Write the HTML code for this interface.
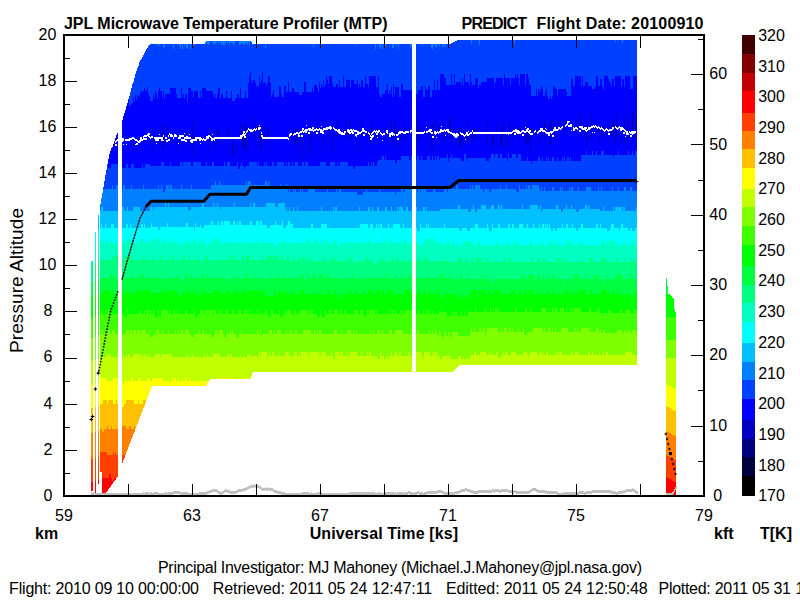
<!DOCTYPE html>
<html><head><meta charset="utf-8"><title>MTP</title>
<style>html,body{margin:0;padding:0;background:#fff;overflow:hidden}svg{display:block}</style></head>
<body><svg width="800" height="600" viewBox="0 0 800 600">
<rect width="800" height="600" fill="#fff"/>
<g shape-rendering="crispEdges"><path fill="#0040ff" d="M100,496V204H101V198H102V193H103V187H104V181H105V175H106V170H107V164H108V159H109V154H110V151H111V148H112V147H113V144H114V141H115V138H116V135H117V133H118V131H119V128H120V125H121V122H122V120H123V116H124V113H125V110H126V106H127V103H128V99H129V96H130V92H131V88H132V84H133V82H134V78H135V74H136V71H137V68H138V66H139V62H140V60H141V59H142V57H143V55H144V53H145V51H146V49H147V48H148V46H149V45H150V44H205V42H206V41H251V42H252V44H451V43H453V42H455V41H457V40H637V496Z"/><path fill="#0000ff" d="M100,496V204H101V198H102V193H103V187H104V181H105V175H106V170H107V164H108V159H109V154H110V151H111V148H112V147H113V144H114V141H115V138H116V135H117V133H118V131H119V128H120V125H121V122H122V120H123V116H124V113H125V110H126V106H127V103H128V99H129V106H130V105H131V104H132V103H133V97H134V102H135V95H136V100H137V95H138V96H139V97H140V93H141V91H142V92H143V91H144V88H145V90H146V91H147V87H148V94H149V96H150V101H153V94H154V98H155V91H156V94H157V98H158V91H159V88H160V91H162V98H163V91H164V98H165V94H170V88H176V94H177V98H181V88H182V98H183V94H184V98H185V94H187V101H188V88H191V91H193V98H194V91H198V98H200V91H201V98H202V88H206V91H213V94H214V98H215V94H216V98H217V94H218V88H220V98H221V94H223V98H226V91H227V98H231V91H232V101H235V98H237V94H239V98H240V88H241V98H245V91H246V98H248V83H249V76H250V72H251V80H252V83H253V80H255V83H256V86H259V76H260V83H261V80H262V72H263V83H266V86H267V83H268V76H270V83H271V97H272V94H273V90H274V97H279V86H281V94H282V97H284V86H286V92H288V82H289V92H292V88H294V92H299V95H302V92H304V82H306V92H312V88H313V92H314V85H317V88H318V92H319V82H320V88H321V84H322V87H323V80H324V87H325V84H326V76H327V80H328V84H329V76H332V84H333V87H336V84H338V87H339V80H340V87H343V76H344V87H346V80H350V87H351V80H354V84H357V80H358V87H359V84H360V87H361V80H363V87H365V76H366V84H368V87H369V76H376V87H378V76H379V94H380V97H382V94H385V90H387V84H388V94H389V90H390V94H391V87H392V97H393V84H394V94H395V87H399V97H401V84H403V90H414V94H418V90H421V86H423V97H425V86H426V90H428V86H430V97H432V90H434V80H435V90H437V80H438V90H440V74H444V78H446V85H451V74H452V85H454V74H455V85H456V82H461V85H462V78H463V85H464V74H465V82H469V85H470V74H471V82H472V85H475V78H478V88H479V85H481V82H487V78H494V85H495V82H496V78H503V85H504V74H505V78H510V85H511V78H515V74H516V78H517V74H518V78H519V85H520V74H525V85H526V74H528V78H529V85H531V96H536V89H537V96H538V89H539V92H540V89H541V86H542V89H543V96H545V92H546V89H547V96H548V99H550V96H551V99H552V96H553V86H555V89H557V96H558V89H566V92H567V96H571V79H573V86H575V76H581V86H582V76H583V86H585V82H588V86H592V89H595V86H596V76H598V86H600V79H602V86H603V89H604V76H608V79H609V82H611V86H612V79H614V86H615V76H621V86H622V79H624V86H625V76H630V89H633V76H637V496Z"/><path fill="#0040ff" d="M100,496V204H101V198H102V193H103V187H104V181H105V175H106V171H107V164H108V168H111V164H119V168H121V164H122V168H126V164H128V168H131V164H134V168H142V164H143V168H145V164H150V166H161V162H164V166H170V162H171V166H180V162H182V166H183V162H191V166H193V162H201V166H206V162H207V166H212V162H214V166H224V162H225V166H227V162H230V166H237V162H238V169H240V166H241V162H242V166H244V169H245V166H249V162H257V166H258V162H259V166H264V162H265V166H266V162H267V166H272V162H274V166H277V162H284V166H286V162H287V166H288V162H290V166H292V162H293V166H295V162H298V166H302V162H304V166H305V162H308V166H320V162H326V166H330V162H335V166H337V162H338V166H340V162H348V166H353V169H355V166H368V162H369V166H371V162H372V166H373V162H374V166H377V162H378V160H382V156H384V160H385V156H386V160H395V163H397V160H401V156H409V160H411V156H416V160H417V156H419V160H421V156H422V160H427V156H430V160H432V156H433V160H435V156H436V160H437V156H439V160H440V158H447V154H448V161H449V158H451V154H452V158H461V161H464V154H466V158H467V161H468V158H486V161H489V158H491V154H494V158H495V154H498V158H500V154H502V158H507V161H508V154H509V158H512V154H516V158H518V154H521V161H527V157H528V161H531V164H532V161H538V157H540V161H542V157H543V161H546V157H547V161H548V157H549V161H552V157H554V161H557V157H558V161H562V157H563V161H564V157H565V161H567V157H569V161H570V157H571V161H581V155H586V151H587V155H592V151H593V155H596V151H597V155H601V151H604V155H613V158H614V155H618V151H619V155H628V151H629V155H632V151H633V155H635V151H637V496Z"/><path fill="#0080ff" d="M100,496V204H101V198H102V193H103V189H112V185H113V189H116V185H122V189H123V185H125V189H131V185H132V189H143V185H144V189H158V185H159V189H161V185H162V189H163V192H165V189H166V185H169V189H170V185H172V189H181V185H182V189H191V185H192V189H211V185H215V181H216V185H219V181H220V185H246V181H247V185H248V181H251V185H265V181H267V185H268V181H269V185H270V188H280V184H281V188H286V184H287V188H288V192H289V188H290V192H293V188H294V192H295V188H296V192H300V188H301V192H302V188H303V192H308V188H315V192H327V188H328V192H336V188H337V192H339V188H341V192H357V195H363V192H366V188H367V192H379V188H380V192H395V195H396V192H401V188H403V192H405V188H412V192H416V188H417V192H418V188H420V192H421V188H426V192H433V188H435V192H444V188H447V192H448V188H450V185H451V189H456V185H458V189H470V185H471V189H472V185H473V189H475V185H480V189H483V192H484V189H489V192H491V189H500V185H501V189H506V185H507V189H516V192H519V185H520V189H526V185H527V189H528V185H530V189H532V185H539V189H540V191H541V187H542V191H544V187H545V191H552V187H554V191H560V187H561V191H562V187H563V191H569V187H570V191H571V187H573V191H578V187H579V191H586V187H591V191H598V187H599V191H601V187H602V191H612V187H613V191H618V187H619V191H624V187H626V191H630V187H632V191H637V496Z"/><path fill="#00c0ff" d="M100,496V211H101V207H103V211H122V207H124V211H127V207H128V211H133V207H140V211H150V207H153V210H154V207H165V203H166V207H168V203H169V207H188V210H191V207H202V203H204V207H213V203H214V207H217V203H218V207H220V210H221V207H234V203H235V207H250V203H251V207H253V203H255V207H266V203H275V207H278V203H285V210H286V207H287V211H289V207H290V211H293V207H294V211H297V207H298V211H321V207H322V211H333V207H334V211H335V207H337V211H359V207H360V211H368V207H370V211H372V207H373V211H377V207H379V211H385V207H387V211H391V207H392V211H397V207H398V211H399V207H403V211H406V207H408V211H416V207H417V211H423V207H425V211H426V207H427V211H440V209H458V205H460V209H468V212H471V209H473V205H474V209H475V212H477V209H481V205H486V209H491V205H494V209H498V205H500V209H501V205H502V209H522V205H523V209H530V205H538V209H540V205H541V212H542V209H556V205H558V209H561V212H563V209H566V205H567V209H571V205H572V209H576V212H579V209H585V205H587V209H588V205H589V209H600V211H603V207H604V211H613V207H614V211H615V207H622V211H623V207H625V211H636V207H637V496Z"/><path fill="#00ffff" d="M100,496V228H101V224H102V228H105V224H106V228H111V224H114V228H120V231H122V228H126V224H128V228H130V224H131V228H141V224H143V228H144V224H145V228H150V227H151V223H152V227H158V230H160V227H167V223H168V227H186V223H188V227H194V230H195V223H196V227H200V225H201V228H204V225H211V221H213V225H218V221H219V225H221V221H223V225H224V221H230V225H233V221H235V225H237V221H238V225H239V221H241V225H250V221H252V225H256V221H259V225H260V221H262V225H267V228H270V225H275V221H276V225H282V221H283V228H286V225H288V221H290V224H293V228H311V224H313V228H321V224H327V228H360V224H368V228H370V224H373V228H376V224H377V228H378V224H379V228H380V224H382V228H388V224H389V228H393V224H400V228H403V224H404V228H417V231H420V224H421V228H426V224H427V228H428V224H429V228H444V224H445V228H459V231H462V228H467V231H470V228H475V224H478V228H487V224H488V228H489V231H492V224H493V228H498V224H500V228H508V224H510V228H512V224H514V228H519V224H523V228H527V224H528V228H533V224H534V228H539V224H540V228H542V224H544V228H545V224H546V228H547V224H548V228H549V224H550V228H551V231H553V228H555V231H557V228H562V224H563V228H566V224H568V228H572V224H573V228H576V231H578V228H581V224H583V228H596V224H598V228H600V224H601V228H607V231H610V228H611V224H614V228H619V231H620V228H621V224H623V228H628V231H630V228H632V231H635V228H637V496Z"/><path fill="#00ffc0" d="M100,496V239H101V243H103V239H104V243H106V239H107V243H111V239H112V243H115V239H116V243H118V239H120V243H126V239H130V243H131V239H133V243H136V239H137V243H140V239H142V243H143V239H144V243H148V239H149V243H151V239H157V246H158V239H160V243H162V239H163V243H164V239H166V243H173V239H175V243H181V246H183V243H186V239H188V243H193V239H196V243H201V239H202V243H203V239H204V243H206V246H208V243H213V239H219V243H228V239H229V243H237V239H238V243H246V239H247V243H256V239H257V243H262V239H263V243H274V246H277V243H282V239H284V243H293V246H294V243H307V239H309V243H313V239H315V243H316V239H317V243H324V239H325V243H327V239H328V243H334V239H337V246H340V243H349V239H350V243H363V239H364V243H368V239H370V243H384V239H385V243H389V239H391V243H394V239H395V243H400V239H401V243H405V239H406V243H413V239H414V243H419V246H422V243H425V239H427V243H428V239H435V243H442V246H445V243H447V239H449V243H450V245H453V241H454V245H456V241H457V245H463V241H472V245H477V241H480V245H496V241H498V245H507V241H508V245H514V241H517V245H530V241H532V245H541V241H542V245H543V241H544V245H549V241H551V245H553V241H555V245H558V241H559V245H566V241H571V245H572V241H573V245H579V241H581V245H582V241H583V245H601V241H605V245H607V241H615V245H616V241H617V245H618V248H619V245H623V241H625V245H631V241H634V245H637V496Z"/><path fill="#00ff80" d="M100,496V260H113V256H118V260H119V263H122V260H125V256H132V260H143V256H144V260H145V256H146V260H152V256H153V260H160V256H162V260H169V256H170V260H172V256H174V260H183V256H185V260H189V256H190V260H197V256H198V260H201V263H202V260H205V256H208V260H209V263H210V260H229V256H231V260H233V256H235V260H240V263H241V260H242V256H244V260H246V256H250V260H252V256H253V260H261V256H262V260H267V256H273V260H274V256H278V260H281V256H283V260H287V256H289V260H290V261H293V257H294V261H298V257H300V261H301V257H305V261H307V257H308V261H310V257H311V261H312V257H313V261H323V257H325V261H331V257H335V261H337V257H338V261H348V257H350V261H351V257H352V261H354V264H356V261H366V257H368V261H370V257H371V261H374V264H377V261H380V257H381V261H383V257H384V261H391V257H393V261H396V257H397V261H404V257H405V261H417V257H418V261H419V257H420V261H424V257H426V261H427V257H428V261H442V257H443V261H450V262H458V258H462V262H466V258H468V262H469V265H471V258H473V262H476V258H482V262H487V258H489V262H494V258H495V262H503V258H505V262H509V258H511V262H531V258H532V262H538V258H540V262H543V258H544V262H545V258H546V262H555V258H556V262H558V258H560V262H561V258H562V262H563V258H564V262H566V258H567V262H581V258H582V262H589V258H592V262H593V258H594V262H601V258H606V262H616V258H618V262H624V258H625V262H631V258H632V262H633V258H634V262H636V258H637V496Z"/><path fill="#00ff40" d="M100,496V278H110V274H112V278H113V274H114V278H115V274H116V278H131V274H132V278H139V274H140V278H142V274H144V278H148V274H149V278H164V281H166V278H177V274H178V278H181V281H184V278H185V274H187V278H191V274H192V278H203V274H204V278H207V274H208V278H227V281H230V278H241V281H242V278H245V274H247V278H254V274H255V278H265V281H267V278H277V274H278V278H283V274H284V278H301V274H303V278H304V281H306V278H307V274H309V278H312V274H313V278H314V274H315V278H319V274H323V278H327V274H329V278H342V281H344V278H352V274H353V278H360V281H361V278H385V274H386V278H395V274H396V281H397V278H402V274H403V278H409V274H411V278H427V274H428V278H440V274H443V278H450V275H451V279H460V275H462V279H468V275H469V279H481V275H482V279H484V275H485V279H490V282H493V279H520V275H521V279H523V275H525V279H528V275H534V279H537V275H540V279H543V275H544V279H547V275H549V279H552V275H555V279H563V282H565V279H573V275H579V279H584V275H585V279H587V275H588V279H593V275H598V279H599V275H600V279H603V282H605V279H607V275H608V279H616V275H623V279H628V275H629V279H631V275H632V279H637V496Z"/><path fill="#00ff00" d="M100,496V293H103V290H110V293H112V290H113V296H114V293H121V290H122V293H123V290H125V293H127V290H129V293H136V290H142V293H143V290H150V293H161V290H162V293H163V290H165V293H167V290H175V293H179V296H182V293H186V290H188V293H189V290H190V293H192V290H194V293H198V296H200V293H202V290H204V293H214V290H218V293H219V290H221V293H227V290H230V293H234V290H235V293H236V290H238V293H242V290H245V293H247V290H254V293H255V290H258V293H259V290H261V293H263V290H265V293H266V296H274V290H275V293H279V290H280V293H281V290H282V293H285V290H287V293H290V294H292V290H293V294H300V290H304V294H314V290H315V294H320V290H321V294H322V297H323V294H328V290H330V294H334V290H336V294H337V297H340V294H349V290H351V294H356V290H357V294H364V290H365V294H368V290H372V294H374V290H375V294H376V290H380V294H382V290H384V294H387V290H392V294H404V290H410V294H418V290H420V294H424V290H425V294H429V290H431V294H436V290H437V294H438V290H439V294H440V297H445V294H451V297H452V294H454V297H455V294H458V297H461V294H462V297H465V294H466V297H469V294H470V290H471V294H472V290H477V297H478V294H479V290H485V294H488V290H491V294H494V290H500V294H502V290H503V294H511V290H515V294H519V290H520V294H521V290H522V294H524V290H527V294H528V290H529V294H530V290H533V294H538V290H539V294H548V290H549V294H552V290H553V294H563V290H564V294H566V290H568V294H569V290H571V294H574V290H575V294H577V290H578V294H579V290H586V294H590V290H592V294H601V290H607V294H608V290H609V294H612V290H613V294H616V290H617V294H623V297H626V294H631V297H634V294H635V290H636V294H637V496Z"/><path fill="#40ff00" d="M100,496V314H101V310H102V314H106V310H107V314H108V310H111V314H120V310H121V314H124V317H127V310H128V314H139V310H141V314H144V310H145V314H147V310H149V314H150V310H151V314H153V310H154V314H155V317H158V310H159V317H161V310H168V314H169V310H170V314H174V310H175V314H177V310H178V314H185V310H187V314H194V310H195V317H198V314H200V310H204V314H205V310H213V314H214V310H216V314H218V310H220V314H221V310H222V314H225V310H228V314H232V310H234V314H238V310H241V314H244V310H246V314H247V310H248V314H250V310H251V314H258V310H259V314H265V310H267V314H268V317H271V310H273V314H279V310H280V317H283V314H285V310H286V314H287V310H291V314H294V310H296V314H299V310H300V314H301V310H308V314H309V310H310V314H311V310H313V314H317V317H320V310H321V314H322V317H325V310H326V314H329V310H331V314H334V310H338V314H340V310H341V314H344V310H346V314H353V310H354V314H355V310H358V314H360V310H363V314H364V317H366V314H367V310H368V314H369V310H375V314H376V310H377V314H389V310H390V314H392V310H393V314H395V310H396V314H400V310H401V314H402V310H403V314H405V310H412V314H418V310H419V314H423V310H424V314H426V310H428V314H429V310H430V314H432V310H433V314H439V310H440V312H447V316H451V312H452V316H453V312H454V316H455V312H457V316H460V312H462V316H464V312H465V316H468V312H475V308H476V312H484V308H485V312H486V308H487V312H490V308H491V312H493V308H494V312H495V308H497V312H498V308H499V312H515V308H517V312H525V308H527V312H530V308H531V312H541V308H546V312H549V308H550V312H552V308H554V312H555V308H557V312H560V308H564V312H566V308H567V312H570V308H571V312H572V308H573V312H574V308H581V312H589V308H591V312H597V308H598V312H599V308H600V313H602V316H603V313H608V310H611V313H620V310H622V313H625V310H630V313H634V310H637V496Z"/><path fill="#80ff00" d="M100,496V334H101V330H103V334H106V330H107V334H108V330H110V334H112V330H115V334H126V330H129V334H130V330H132V334H133V330H136V334H137V330H140V334H141V330H146V334H149V330H150V337H153V334H156V330H159V334H162V330H163V334H168V330H169V334H175V330H176V334H178V330H179V334H181V330H183V334H185V330H189V334H191V337H194V334H199V330H200V334H203V330H204V334H211V337H214V334H215V330H217V334H219V330H223V334H224V337H226V334H230V330H231V334H232V330H233V334H236V337H239V334H241V330H242V334H257V330H258V334H260V330H261V337H262V334H269V330H272V334H274V330H275V334H277V330H281V334H286V330H287V334H289V330H290V334H291V330H292V334H295V330H297V334H303V330H311V334H314V330H315V334H317V330H318V334H319V330H321V334H334V330H337V334H341V330H342V334H347V330H351V334H353V330H354V334H356V330H357V334H370V330H371V334H373V330H374V334H377V330H380V334H382V330H383V334H389V330H392V334H395V330H403V334H410V330H411V334H412V330H414V334H417V330H419V334H429V330H430V334H432V330H433V334H435V330H436V334H438V337H439V330H440V332H441V336H442V339H443V336H444V332H446V336H448V332H450V336H451V339H452V332H458V336H470V332H471V328H472V332H474V328H475V332H479V328H481V332H483V328H485V335H486V332H487V328H498V332H501V328H502V332H504V328H507V332H509V328H511V332H512V328H513V332H518V328H519V332H523V328H524V335H527V332H533V328H543V332H544V328H545V332H548V328H550V332H552V328H553V332H555V328H556V332H561V328H568V332H574V328H575V332H577V328H578V332H581V328H589V332H590V328H591V332H596V328H599V332H600V330H601V333H603V330H605V333H617V330H622V333H624V330H626V333H628V330H630V333H632V330H636V333H637V496Z"/><path fill="#c0ff00" d="M100,496V357H106V354H108V357H109V354H111V357H117V354H119V357H120V354H121V357H123V354H124V357H126V354H127V357H128V354H130V357H133V354H141V357H142V354H143V357H144V354H145V357H146V354H147V357H149V354H150V357H155V354H160V357H161V354H172V357H187V354H188V357H192V354H193V357H204V354H205V357H207V354H208V357H213V354H220V357H227V354H229V357H230V354H232V357H240V354H241V357H247V354H250V356H258V359H259V352H260V356H261V352H267V359H268V356H269V352H270V356H272V352H274V356H279V352H280V356H285V352H289V356H294V352H297V356H299V352H300V356H301V352H308V356H309V352H318V356H319V352H320V356H321V352H326V356H331V352H332V356H333V359H335V352H339V356H340V352H343V356H347V352H348V356H350V352H357V356H361V352H362V356H367V352H368V356H369V352H371V356H377V359H380V352H381V356H384V359H386V356H388V359H389V356H391V352H392V356H395V352H397V356H399V352H401V356H408V352H410V356H413V352H422V356H423V359H424V352H430V356H432V352H433V356H434V352H436V356H437V352H438V356H440V359H442V356H450V359H451V356H452V359H458V356H461V359H463V356H464V359H467V356H468V359H470V355H474V352H476V355H480V352H486V355H489V352H490V355H492V352H493V355H496V352H498V358H501V355H503V352H504V355H505V352H507V355H511V352H516V355H523V352H527V355H528V358H529V355H530V352H537V355H539V352H541V355H542V352H543V355H546V352H548V355H555V352H556V355H557V352H558V355H559V352H562V355H571V352H573V355H575V352H577V355H578V352H579V355H588V352H590V355H592V352H593V355H599V352H600V355H603V352H604V355H606V352H608V355H625V352H632V355H637V496Z"/><path fill="#ffff00" d="M100,496V378H106V381H113V378H119V381H123V384H124V381H125V378H126V381H131V378H133V381H138V378H141V381H147V378H150V381H152V378H163V381H168V378H169V381H172V378H173V381H174V378H176V381H178V378H179V381H182V378H183V381H185V378H187V381H189V378H190V381H216V378H222V381H223V378H231V381H232V378H234V381H238V378H239V381H241V378H248V381H250V378H254V381H259V378H260V381H263V378H264V381H266V378H269V381H270V378H274V381H276V378H277V381H278V378H279V381H281V378H282V381H283V378H285V381H289V378H290V381H295V378H297V381H300V378H308V381H311V378H312V381H314V378H316V381H318V378H324V381H325V378H326V381H329V378H331V381H336V378H337V381H340V378H341V381H342V378H343V381H344V378H345V381H352V378H353V381H357V378H359V381H370V378H372V381H378V378H380V381H382V378H384V381H385V384H387V381H392V378H398V381H406V378H411V381H412V378H415V381H416V378H417V381H422V378H423V381H430V378H431V381H436V378H437V381H438V378H439V381H441V378H446V381H448V378H450V381H457V378H458V381H460V378H461V381H462V378H468V381H480V378H482V381H488V378H496V381H503V378H505V381H506V378H507V381H512V378H513V381H514V378H515V381H525V378H530V381H535V378H537V381H538V378H539V381H540V384H542V378H543V381H544V378H546V381H551V378H554V381H556V378H557V381H561V378H563V381H566V378H568V381H569V378H570V381H572V378H574V381H576V378H578V381H580V378H587V381H588V378H589V381H591V378H595V381H598V378H599V381H601V378H602V381H604V378H605V381H607V378H608V381H609V378H617V381H623V378H624V381H625V378H626V381H627V378H628V381H633V378H634V381H637V496Z"/><path fill="#ffc000" d="M100,496V404H103V400H107V404H108V400H113V404H116V400H117V404H118V400H119V404H120V407H121V404H122V407H124V404H126V400H134V404H138V400H139V404H143V400H146V404H149V400H150V404H151V400H158V404H160V400H161V407H163V404H168V400H173V404H182V400H183V404H184V400H185V404H187V400H188V404H190V400H192V404H196V400H198V404H199V400H200V404H204V407H207V400H208V404H210V400H213V404H222V400H224V404H225V400H226V404H227V400H228V404H229V400H230V404H233V400H234V404H236V400H238V404H240V400H241V404H242V400H244V404H246V400H248V404H251V400H255V404H259V400H262V404H263V400H264V404H273V400H274V404H276V400H277V404H279V400H284V404H285V400H291V404H296V407H299V404H305V400H310V404H316V400H317V404H320V400H322V404H324V400H326V407H328V404H329V400H330V404H337V400H338V404H340V400H341V404H346V400H348V404H350V400H351V404H362V400H363V404H365V400H366V404H367V400H370V404H371V400H373V404H379V400H380V404H384V400H385V404H386V400H387V404H388V400H389V404H390V400H392V404H393V400H400V404H401V400H403V404H409V400H411V404H414V400H415V404H416V400H421V404H422V400H423V404H424V400H427V404H429V400H430V404H435V400H436V404H439V400H440V404H452V400H453V404H454V400H462V404H465V400H466V404H467V400H468V404H484V400H485V404H487V400H489V404H492V400H493V404H494V400H495V404H499V400H507V404H515V400H516V404H530V400H531V404H532V400H533V404H535V400H536V404H542V400H547V404H548V400H550V404H553V400H554V404H555V400H557V404H561V400H568V404H570V400H574V404H577V400H578V404H579V400H581V404H584V400H585V404H598V400H600V404H601V400H610V404H628V400H629V404H633V407H636V404H637V496Z"/><path fill="#ff8000" d="M100,496V429H102V432H104V429H107V426H108V429H111V426H112V429H118V432H121V426H126V429H129V426H131V429H134V426H135V429H137V426H138V429H140V426H141V429H143V426H144V429H147V426H148V429H152V426H155V429H156V432H160V426H162V429H164V426H166V429H167V426H168V429H172V426H179V429H185V426H189V429H190V426H193V429H195V426H196V429H201V426H202V429H204V426H205V429H208V426H209V429H214V426H223V429H228V426H229V429H234V426H236V429H240V426H241V429H242V426H243V429H246V426H249V429H250V426H251V429H269V426H271V429H277V426H280V429H283V426H286V429H289V426H292V429H294V426H295V429H304V426H305V432H308V426H309V429H311V426H312V432H314V429H318V426H319V429H320V426H327V429H331V426H333V429H336V426H338V429H350V426H351V429H359V426H367V429H368V426H371V429H373V432H375V426H376V429H379V426H383V429H384V426H385V429H386V426H387V429H391V426H393V429H398V426H400V429H405V426H406V429H411V426H412V429H417V426H418V429H422V426H425V429H431V426H439V429H440V426H441V429H442V426H444V429H447V426H449V429H464V426H465V429H468V426H469V429H475V426H476V429H491V426H492V429H495V426H496V429H501V426H503V429H506V426H509V429H510V426H513V429H515V426H517V429H518V426H519V429H523V426H524V429H532V426H533V429H534V426H536V429H537V426H538V429H539V426H541V429H542V426H544V429H546V426H550V429H552V426H556V429H558V426H560V432H562V426H572V429H578V426H579V429H582V426H583V429H585V426H586V429H591V426H592V429H607V432H609V429H610V426H611V429H613V426H614V429H616V426H617V429H618V426H619V429H631V426H633V429H637V496Z"/><path fill="#ff4000" d="M100,496V452H107V455H113V452H114V455H115V452H116V455H126V452H127V455H128V452H129V455H132V452H134V455H136V452H139V455H144V452H147V455H149V452H151V455H154V452H156V455H158V452H160V455H161V452H162V458H164V455H165V452H170V455H174V452H179V455H180V452H184V455H188V452H191V455H192V452H193V455H198V452H199V455H200V452H203V455H204V452H205V455H207V452H209V455H213V452H214V455H218V452H220V455H221V452H222V455H223V452H224V455H225V458H228V455H229V452H230V455H232V452H233V455H234V452H240V455H247V452H248V455H251V452H252V455H256V452H257V455H258V452H265V455H266V452H268V455H270V452H271V455H272V458H275V455H276V452H277V455H289V452H290V455H291V452H292V455H293V452H295V455H298V452H300V455H305V458H308V455H312V452H313V455H316V452H318V455H323V452H329V455H338V452H340V455H350V452H351V455H354V452H355V455H362V452H364V455H365V452H367V455H368V452H369V455H382V452H392V455H400V452H410V455H416V452H418V455H428V458H430V455H431V452H433V455H435V452H437V455H441V452H445V455H449V452H450V455H471V452H474V455H475V452H476V455H477V452H479V455H483V452H490V455H492V458H493V455H498V452H499V455H502V452H506V455H508V452H510V455H511V452H514V455H516V452H518V458H521V455H522V452H523V455H525V452H527V455H542V452H545V455H552V452H555V458H556V455H558V452H561V455H562V452H563V455H568V452H570V455H576V452H577V455H584V458H586V455H591V452H592V455H613V452H616V455H617V452H622V455H623V458H626V455H630V452H635V455H637V496Z"/><path fill="#ff0000" d="M100,496V478H109V474H111V478H112V481H114V478H120V474H124V481H125V478H128V474H130V478H131V474H132V478H141V474H142V478H143V474H144V478H148V474H149V478H151V481H152V478H157V474H158V478H162V474H163V478H168V474H170V478H173V474H175V478H181V474H182V478H187V474H188V478H197V474H199V478H202V474H207V478H209V474H221V478H226V474H227V478H232V474H233V478H242V474H244V478H247V474H251V478H253V474H254V478H258V474H259V478H262V474H270V478H271V474H272V478H273V474H274V478H279V474H280V478H281V474H282V478H283V474H288V478H291V481H294V478H295V474H298V478H299V481H302V478H303V474H304V478H307V474H308V478H312V474H317V478H318V474H319V478H330V474H331V478H334V481H336V478H338V474H339V478H341V474H344V478H346V474H347V478H354V474H355V478H356V474H360V478H361V474H363V478H364V474H366V478H367V474H369V478H375V474H376V478H382V474H387V478H393V474H395V478H396V474H397V478H401V474H403V478H410V474H418V478H420V474H422V478H425V474H427V478H431V474H432V478H435V474H436V478H443V474H445V478H448V481H450V478H460V474H461V478H462V474H464V478H473V474H474V478H475V481H477V478H479V474H480V478H482V474H483V478H484V474H485V478H486V474H487V478H490V474H491V478H497V474H498V481H500V478H503V474H504V478H505V474H508V478H511V474H512V478H513V474H519V478H523V481H526V474H527V478H528V474H530V478H534V474H535V478H542V474H543V478H545V474H548V478H553V474H555V478H565V474H568V478H573V474H577V478H578V474H580V478H581V474H586V478H590V474H591V478H595V474H597V478H606V474H608V478H614V474H615V478H624V474H625V478H626V474H627V478H629V474H630V478H632V474H633V478H636V474H637V496Z"/><path fill="#0080ff" d="M157,44v2h1V44zM159,44v2h1V44zM163,44v4h1V44zM164,44v3h1V44zM173,44v5h1V44zM179,44v2h1V44zM180,44v5h1V44zM182,44v5h1V44zM184,44v2h1V44zM186,44v4h1V44zM187,44v5h1V44zM190,44v5h1V44zM194,44v2h1V44zM205,42v2h1V42zM206,41v2h1V41zM207,41v3h1V41zM208,41v4h1V41zM209,41v3h1V41zM212,41v2h1V41zM213,41v3h1V41zM214,41v3h1V41zM215,41v3h1V41zM216,41v2h1V41zM218,41v3h1V41zM220,41v2h1V41zM221,41v4h1V41zM222,41v3h1V41zM223,41v4h1V41zM224,41v4h1V41zM225,41v2h1V41zM227,41v3h1V41zM229,41v3h1V41zM230,41v2h1V41zM231,41v2h1V41zM232,41v2h1V41zM233,41v4h1V41zM234,41v3h1V41zM239,41v4h1V41zM240,41v3h1V41zM241,41v3h1V41zM242,41v2h1V41zM243,41v4h1V41zM244,41v3h1V41zM245,41v3h1V41zM246,41v2h1V41zM247,41v4h1V41zM248,41v2h1V41zM249,41v4h1V41zM265,44v4h1V44zM313,44v3h1V44zM356,44v2h1V44zM375,44v5h1V44zM379,44v3h1V44zM380,44v5h1V44zM382,44v5h1V44zM385,44v3h1V44zM392,44v4h1V44zM393,44v4h1V44zM396,44v2h1V44zM398,44v5h1V44zM410,44v4h1V44zM411,44v2h1V44zM412,44v2h1V44zM414,44v4h1V44zM422,44v2h1V44zM431,44v4h1V44zM432,44v5h1V44zM433,44v2h1V44zM435,44v3h1V44zM436,44v3h1V44zM439,44v2h1V44zM442,44v3h1V44zM443,44v3h1V44zM445,44v3h1V44zM471,40v4h1V40zM479,40v5h1V40zM514,40v3h1V40zM615,40v2h1V40zM622,40v3h1V40z"/><path fill="#0000c0" d="M136,137v14h1v-14zM153,138v13h1v-13zM159,134v10h1v-10zM161,132v11h1v-11zM162,124v24h1v-24zM163,130v19h1v-19zM166,123v23h1v-23zM177,132v20h1v-20zM183,134v14h1v-14zM190,134v12h1v-12zM192,122v24h1v-24zM193,135v21h1v-21zM209,129v21h1v-21zM214,131v19h1v-19zM217,130v11h2v-11zM227,130v9h2v-9zM232,136v21h2v-21zM240,122v21h1v-21zM242,132v13h2v-13zM245,125v24h2v-24zM253,131v8h2v-8zM254,116v19h1v-19zM257,123v8h1v-8zM260,127v21h2v-21zM267,127v16h1v-16zM268,128v8h1v-8zM294,127v15h1v-15zM295,129v16h2v-16zM299,127v23h1v-23zM302,131v26h1v-26zM309,131v24h1v-24zM311,131v19h1v-19zM317,118v22h1v-22zM323,122v25h1v-25zM329,125v15h1v-15zM332,135v16h1v-16zM337,119v21h1v-21zM346,120v19h1v-19zM348,126v11h1v-11zM350,120v22h1v-22zM358,123v26h1v-26zM362,118v18h1v-18zM370,132v14h1v-14zM371,122v14h1v-14zM377,129v10h2v-10zM391,120v20h1v-20zM392,129v14h1v-14zM394,125v8h1v-8zM395,122v12h1v-12zM396,131v17h1v-17zM403,132v10h1v-10zM405,123v18h1v-18zM417,118v23h1v-23zM418,124v20h1v-20zM419,128v11h1v-11zM431,124v25h1v-25zM432,123v26h1v-26zM434,119v15h1v-15zM438,124v9h1v-9zM443,119v23h1v-23zM445,130v9h1v-9zM449,117v22h2v-22zM458,131v11h1v-11zM459,128v19h2v-19zM461,127v21h1v-21zM466,131v9h1v-9zM467,120v24h1v-24zM468,131v9h1v-9zM471,132v11h1v-11zM473,127v13h2v-13zM477,129v9h1v-9zM486,121v23h1v-23zM492,134v13h2v-13zM496,124v15h1v-15zM500,134v12h1v-12zM501,130v16h1v-16zM502,122v25h1v-25zM507,130v18h1v-18zM509,119v20h1v-20zM513,127v12h1v-12zM519,126v16h1v-16zM524,120v25h1v-25zM526,128v16h1v-16zM527,128v15h1v-15zM528,132v8h1v-8zM529,132v11h2v-11zM530,128v25h1v-25zM540,119v26h1v-26zM544,122v17h2v-17zM549,123v26h1v-26zM550,121v23h1v-23zM553,120v9h1v-9zM558,121v11h1v-11zM566,121v14h1v-14zM577,119v10h1v-10zM580,114v22h1v-22zM586,123v24h1v-24zM587,123v17h1v-17zM591,114v24h1v-24zM599,127v15h1v-15zM602,127v11h2v-11zM607,128v9h1v-9zM611,124v12h2v-12zM613,119v13h1v-13zM614,123v19h2v-19zM616,113v25h1v-25zM621,122v21h1v-21zM624,118v25h1v-25zM627,120v23h1v-23zM628,119v22h1v-22zM632,112v26h2v-26zM636,116v14h1v-14zM242,127v21h5v-21z"/><path fill="#fff" d="M100,497V490H101V495H102V494H105V493H106V492H107V491H108V489H109V488H110V487H111V485H112V484H113V482H114V481H115V480H116V478H117V477H118V474H119V472H120V468H121V466H122V463H123V460H124V458H125V455H126V452H127V450H128V447H129V444H130V442H131V439H132V437H133V434H134V432H135V429H136V426H137V424H138V421H139V418H140V416H141V413H142V411H143V408H144V406H145V403H146V400H147V398H148V395H149V392H150V390H151V387H152V386H206V385H207V383H208V382H209V380H210V379H250V378H251V376H252V373H253V372H453V371H454V370H455V369H456V368H457V367H458V366H459V365H637V497Z"/><rect x="118" y="36" width="4" height="459" fill="#fff"/><rect x="412" y="36" width="4" height="459" fill="#fff"/><rect x="100" y="472" width="2" height="24" fill="#fff"/><rect x="91" y="261" width="2" height="3" fill="#00ffc0"/><rect x="91" y="264" width="2" height="18" fill="#00ff80"/><rect x="91" y="282" width="2" height="15" fill="#00ff40"/><rect x="91" y="297" width="2" height="21" fill="#00ff00"/><rect x="91" y="318" width="2" height="20" fill="#40ff00"/><rect x="91" y="338" width="2" height="23" fill="#80ff00"/><rect x="91" y="361" width="2" height="24" fill="#c0ff00"/><rect x="91" y="385" width="2" height="23" fill="#ffff00"/><rect x="91" y="408" width="2" height="25" fill="#ffc000"/><rect x="91" y="433" width="2" height="26" fill="#ff8000"/><rect x="91" y="459" width="2" height="23" fill="#ff4000"/><rect x="91" y="482" width="2" height="9" fill="#ff0000"/><rect x="95" y="232" width="1" height="14" fill="#00ffff"/><rect x="95" y="246" width="1" height="17" fill="#00ffc0"/><rect x="95" y="263" width="1" height="18" fill="#00ff80"/><rect x="95" y="281" width="1" height="15" fill="#00ff40"/><rect x="95" y="296" width="1" height="21" fill="#00ff00"/><rect x="95" y="317" width="1" height="20" fill="#40ff00"/><rect x="95" y="337" width="1" height="23" fill="#80ff00"/><rect x="95" y="360" width="1" height="24" fill="#c0ff00"/><rect x="95" y="384" width="1" height="23" fill="#ffff00"/><rect x="95" y="407" width="1" height="25" fill="#ffc000"/><rect x="95" y="432" width="1" height="26" fill="#ff8000"/><rect x="95" y="458" width="1" height="23" fill="#ff4000"/><rect x="95" y="481" width="1" height="14" fill="#ff0000"/><rect x="98" y="215" width="1" height="15" fill="#00c0ff"/><rect x="98" y="230" width="1" height="15" fill="#00ffff"/><rect x="98" y="245" width="1" height="17" fill="#00ffc0"/><rect x="98" y="262" width="1" height="18" fill="#00ff80"/><rect x="98" y="280" width="1" height="15" fill="#00ff40"/><rect x="98" y="295" width="1" height="21" fill="#00ff00"/><rect x="98" y="316" width="1" height="20" fill="#40ff00"/><rect x="98" y="336" width="1" height="23" fill="#80ff00"/><rect x="98" y="359" width="1" height="24" fill="#c0ff00"/><rect x="98" y="383" width="1" height="23" fill="#ffff00"/><rect x="98" y="406" width="1" height="25" fill="#ffc000"/><rect x="98" y="431" width="1" height="26" fill="#ff8000"/><rect x="98" y="457" width="1" height="23" fill="#ff4000"/><rect x="98" y="480" width="1" height="4" fill="#ff0000"/><rect x="666" y="278" width="1" height="16" fill="#00ff40"/><rect x="666" y="294" width="1" height="23" fill="#00ff00"/><rect x="666" y="317" width="1" height="23" fill="#40ff00"/><rect x="666" y="340" width="1" height="18" fill="#80ff00"/><rect x="666" y="358" width="1" height="26" fill="#c0ff00"/><rect x="666" y="384" width="1" height="22" fill="#ffff00"/><rect x="666" y="406" width="1" height="25" fill="#ffc000"/><rect x="666" y="431" width="1" height="24" fill="#ff8000"/><rect x="666" y="455" width="1" height="22" fill="#ff4000"/><rect x="666" y="477" width="1" height="18" fill="#ff0000"/><rect x="667" y="286" width="1" height="8" fill="#00ff40"/><rect x="667" y="294" width="1" height="23" fill="#00ff00"/><rect x="667" y="317" width="1" height="23" fill="#40ff00"/><rect x="667" y="340" width="1" height="18" fill="#80ff00"/><rect x="667" y="358" width="1" height="27" fill="#c0ff00"/><rect x="667" y="385" width="1" height="22" fill="#ffff00"/><rect x="667" y="407" width="1" height="25" fill="#ffc000"/><rect x="667" y="432" width="1" height="24" fill="#ff8000"/><rect x="667" y="456" width="1" height="22" fill="#ff4000"/><rect x="667" y="478" width="1" height="17" fill="#ff0000"/><rect x="668" y="294" width="1" height="23" fill="#00ff00"/><rect x="668" y="317" width="1" height="23" fill="#40ff00"/><rect x="668" y="340" width="1" height="18" fill="#80ff00"/><rect x="668" y="358" width="1" height="27" fill="#c0ff00"/><rect x="668" y="385" width="1" height="22" fill="#ffff00"/><rect x="668" y="407" width="1" height="25" fill="#ffc000"/><rect x="668" y="432" width="1" height="24" fill="#ff8000"/><rect x="668" y="456" width="1" height="22" fill="#ff4000"/><rect x="668" y="478" width="1" height="17" fill="#ff0000"/><rect x="669" y="294" width="1" height="23" fill="#00ff00"/><rect x="669" y="317" width="1" height="23" fill="#40ff00"/><rect x="669" y="340" width="1" height="18" fill="#80ff00"/><rect x="669" y="358" width="1" height="28" fill="#c0ff00"/><rect x="669" y="386" width="1" height="22" fill="#ffff00"/><rect x="669" y="408" width="1" height="25" fill="#ffc000"/><rect x="669" y="433" width="1" height="24" fill="#ff8000"/><rect x="669" y="457" width="1" height="22" fill="#ff4000"/><rect x="669" y="479" width="1" height="16" fill="#ff0000"/><rect x="670" y="295" width="1" height="22" fill="#00ff00"/><rect x="670" y="317" width="1" height="23" fill="#40ff00"/><rect x="670" y="340" width="1" height="18" fill="#80ff00"/><rect x="670" y="358" width="1" height="28" fill="#c0ff00"/><rect x="670" y="386" width="1" height="22" fill="#ffff00"/><rect x="670" y="408" width="1" height="25" fill="#ffc000"/><rect x="670" y="433" width="1" height="24" fill="#ff8000"/><rect x="670" y="457" width="1" height="22" fill="#ff4000"/><rect x="670" y="479" width="1" height="16" fill="#ff0000"/><rect x="671" y="296" width="1" height="21" fill="#00ff00"/><rect x="671" y="317" width="1" height="23" fill="#40ff00"/><rect x="671" y="340" width="1" height="18" fill="#80ff00"/><rect x="671" y="358" width="1" height="29" fill="#c0ff00"/><rect x="671" y="387" width="1" height="22" fill="#ffff00"/><rect x="671" y="409" width="1" height="25" fill="#ffc000"/><rect x="671" y="434" width="1" height="24" fill="#ff8000"/><rect x="671" y="458" width="1" height="22" fill="#ff4000"/><rect x="671" y="480" width="1" height="15" fill="#ff0000"/><rect x="672" y="298" width="1" height="19" fill="#00ff00"/><rect x="672" y="317" width="1" height="23" fill="#40ff00"/><rect x="672" y="340" width="1" height="18" fill="#80ff00"/><rect x="672" y="358" width="1" height="30" fill="#c0ff00"/><rect x="672" y="388" width="1" height="22" fill="#ffff00"/><rect x="672" y="410" width="1" height="25" fill="#ffc000"/><rect x="672" y="435" width="1" height="24" fill="#ff8000"/><rect x="672" y="459" width="1" height="22" fill="#ff4000"/><rect x="672" y="481" width="1" height="14" fill="#ff0000"/><rect x="673" y="298" width="1" height="19" fill="#00ff00"/><rect x="673" y="317" width="1" height="23" fill="#40ff00"/><rect x="673" y="340" width="1" height="18" fill="#80ff00"/><rect x="673" y="358" width="1" height="30" fill="#c0ff00"/><rect x="673" y="388" width="1" height="22" fill="#ffff00"/><rect x="673" y="410" width="1" height="25" fill="#ffc000"/><rect x="673" y="435" width="1" height="24" fill="#ff8000"/><rect x="673" y="459" width="1" height="22" fill="#ff4000"/><rect x="673" y="481" width="1" height="14" fill="#ff0000"/><rect x="674" y="309" width="1" height="8" fill="#00ff00"/><rect x="674" y="317" width="1" height="23" fill="#40ff00"/><rect x="674" y="340" width="1" height="18" fill="#80ff00"/><rect x="674" y="358" width="1" height="31" fill="#c0ff00"/><rect x="674" y="389" width="1" height="22" fill="#ffff00"/><rect x="674" y="411" width="1" height="25" fill="#ffc000"/><rect x="674" y="436" width="1" height="24" fill="#ff8000"/><rect x="674" y="460" width="1" height="22" fill="#ff4000"/><rect x="674" y="482" width="1" height="13" fill="#ff0000"/><rect x="675" y="312" width="1" height="5" fill="#00ff00"/><rect x="675" y="317" width="1" height="23" fill="#40ff00"/><rect x="675" y="340" width="1" height="18" fill="#80ff00"/><rect x="675" y="358" width="1" height="31" fill="#c0ff00"/><rect x="675" y="389" width="1" height="22" fill="#ffff00"/><rect x="675" y="411" width="1" height="25" fill="#ffc000"/><rect x="675" y="436" width="1" height="24" fill="#ff8000"/><rect x="675" y="460" width="1" height="22" fill="#ff4000"/><rect x="675" y="482" width="1" height="13" fill="#ff0000"/></g><path fill="#c0c0c0" shape-rendering="crispEdges" d="M91,492h1v3h-1zM92,493h1v3h-1zM93,492h1v3h-1zM94,493h1v3h-1zM95,493h1v3h-1zM96,493h1v3h-1zM97,493h1v3h-1zM98,493h1v3h-1zM99,493h1v3h-1zM100,493h1v3h-1zM101,493h1v3h-1zM102,493h1v3h-1zM103,493h1v3h-1zM104,493h1v3h-1zM105,493h1v3h-1zM106,493h1v3h-1zM107,493h1v3h-1zM108,493h1v3h-1zM109,493h1v3h-1zM110,493h1v3h-1zM111,493h1v3h-1zM112,493h1v3h-1zM113,493h1v3h-1zM114,493h1v3h-1zM115,493h1v3h-1zM116,493h1v3h-1zM117,493h1v3h-1zM118,493h1v3h-1zM119,493h1v3h-1zM120,493h1v3h-1zM121,493h1v3h-1zM122,493h1v3h-1zM123,493h1v3h-1zM124,493h1v3h-1zM125,493h1v3h-1zM126,493h1v3h-1zM127,493h1v3h-1zM128,493h1v3h-1zM129,493h1v3h-1zM130,493h1v3h-1zM131,493h1v3h-1zM132,493h1v3h-1zM133,493h1v3h-1zM134,493h1v3h-1zM135,493h1v3h-1zM136,493h1v3h-1zM137,493h1v3h-1zM138,493h1v3h-1zM139,493h1v3h-1zM140,493h1v3h-1zM141,493h1v3h-1zM142,493h1v3h-1zM143,492h1v3h-1zM144,493h1v3h-1zM145,492h1v3h-1zM146,492h1v3h-1zM147,492h1v3h-1zM148,492h1v3h-1zM149,493h1v3h-1zM150,492h1v3h-1zM151,492h1v3h-1zM152,493h1v3h-1zM153,492h1v3h-1zM154,492h1v3h-1zM155,492h1v3h-1zM156,492h1v3h-1zM157,492h1v3h-1zM158,493h1v3h-1zM159,493h1v3h-1zM160,493h1v3h-1zM161,493h1v3h-1zM162,493h1v3h-1zM163,493h1v3h-1zM164,493h1v3h-1zM165,492h1v3h-1zM166,492h1v3h-1zM167,493h1v3h-1zM168,492h1v3h-1zM169,492h1v3h-1zM170,492h1v3h-1zM171,492h1v3h-1zM172,492h1v3h-1zM173,491h1v3h-1zM174,491h1v3h-1zM175,491h1v3h-1zM176,491h1v3h-1zM177,491h1v3h-1zM178,491h1v3h-1zM179,491h1v3h-1zM180,492h1v3h-1zM181,492h1v3h-1zM182,492h1v3h-1zM183,492h1v3h-1zM184,492h1v3h-1zM185,492h1v3h-1zM186,492h1v3h-1zM187,492h1v3h-1zM188,493h1v3h-1zM189,493h1v3h-1zM190,493h1v3h-1zM191,493h1v3h-1zM192,493h1v3h-1zM193,493h1v3h-1zM194,493h1v3h-1zM195,493h1v3h-1zM196,493h1v3h-1zM197,493h1v3h-1zM198,493h1v3h-1zM199,492h1v3h-1zM200,492h1v3h-1zM201,492h1v3h-1zM202,492h1v3h-1zM203,492h1v3h-1zM204,492h1v3h-1zM205,492h1v3h-1zM206,492h1v3h-1zM207,491h1v3h-1zM208,491h1v3h-1zM209,490h1v3h-1zM210,490h1v3h-1zM211,490h1v3h-1zM212,489h1v3h-1zM213,489h1v3h-1zM214,489h1v3h-1zM215,489h1v3h-1zM216,489h1v3h-1zM217,490h1v3h-1zM218,491h1v3h-1zM219,491h1v3h-1zM220,492h1v3h-1zM221,492h1v3h-1zM222,491h1v3h-1zM223,491h1v3h-1zM224,490h1v3h-1zM225,489h1v3h-1zM226,489h1v3h-1zM227,490h1v3h-1zM228,490h1v3h-1zM229,490h1v3h-1zM230,491h1v3h-1zM231,491h1v3h-1zM232,491h1v3h-1zM233,491h1v3h-1zM234,491h1v3h-1zM235,491h1v3h-1zM236,490h1v3h-1zM237,490h1v3h-1zM238,489h1v3h-1zM239,489h1v3h-1zM240,489h1v3h-1zM241,489h1v3h-1zM242,489h1v3h-1zM243,488h1v3h-1zM244,488h1v3h-1zM245,488h1v3h-1zM246,487h1v3h-1zM247,487h1v3h-1zM248,486h1v3h-1zM249,486h1v3h-1zM250,485h1v3h-1zM251,485h1v3h-1zM252,485h1v3h-1zM253,485h1v3h-1zM254,484h1v3h-1zM255,485h1v3h-1zM256,484h1v3h-1zM257,485h1v3h-1zM258,485h1v3h-1zM259,486h1v3h-1zM260,486h1v3h-1zM261,487h1v3h-1zM262,488h1v3h-1zM263,488h1v3h-1zM264,488h1v3h-1zM265,487h1v3h-1zM266,488h1v3h-1zM267,488h1v3h-1zM268,487h1v3h-1zM269,488h1v3h-1zM270,488h1v3h-1zM271,488h1v3h-1zM272,488h1v3h-1zM273,489h1v3h-1zM274,490h1v3h-1zM275,490h1v3h-1zM276,490h1v3h-1zM277,491h1v3h-1zM278,491h1v3h-1zM279,491h1v3h-1zM280,491h1v3h-1zM281,492h1v3h-1zM282,492h1v3h-1zM283,492h1v3h-1zM284,492h1v3h-1zM285,493h1v3h-1zM286,493h1v3h-1zM287,493h1v3h-1zM288,493h1v3h-1zM289,493h1v3h-1zM290,493h1v3h-1zM291,493h1v3h-1zM292,493h1v3h-1zM293,493h1v3h-1zM294,493h1v3h-1zM295,493h1v3h-1zM296,493h1v3h-1zM297,493h1v3h-1zM298,493h1v3h-1zM299,493h1v3h-1zM300,493h1v3h-1zM301,493h1v3h-1zM302,492h1v3h-1zM303,492h1v3h-1zM304,492h1v3h-1zM305,492h1v3h-1zM306,492h1v3h-1zM307,492h1v3h-1zM308,492h1v3h-1zM309,493h1v3h-1zM310,493h1v3h-1zM311,492h1v3h-1zM312,493h1v3h-1zM313,493h1v3h-1zM314,493h1v3h-1zM315,493h1v3h-1zM316,493h1v3h-1zM317,492h1v3h-1zM318,492h1v3h-1zM319,492h1v3h-1zM320,493h1v3h-1zM321,492h1v3h-1zM322,493h1v3h-1zM323,493h1v3h-1zM324,493h1v3h-1zM325,493h1v3h-1zM326,493h1v3h-1zM327,493h1v3h-1zM328,493h1v3h-1zM329,493h1v3h-1zM330,493h1v3h-1zM331,493h1v3h-1zM332,493h1v3h-1zM333,493h1v3h-1zM334,493h1v3h-1zM335,493h1v3h-1zM336,493h1v3h-1zM337,493h1v3h-1zM338,493h1v3h-1zM339,493h1v3h-1zM340,493h1v3h-1zM341,493h1v3h-1zM342,493h1v3h-1zM343,493h1v3h-1zM344,493h1v3h-1zM345,493h1v3h-1zM346,493h1v3h-1zM347,493h1v3h-1zM348,493h1v3h-1zM349,492h1v3h-1zM350,492h1v3h-1zM351,492h1v3h-1zM352,492h1v3h-1zM353,492h1v3h-1zM354,492h1v3h-1zM355,492h1v3h-1zM356,492h1v3h-1zM357,492h1v3h-1zM358,492h1v3h-1zM359,492h1v3h-1zM360,492h1v3h-1zM361,492h1v3h-1zM362,492h1v3h-1zM363,492h1v3h-1zM364,492h1v3h-1zM365,492h1v3h-1zM366,492h1v3h-1zM367,492h1v3h-1zM368,492h1v3h-1zM369,492h1v3h-1zM370,492h1v3h-1zM371,492h1v3h-1zM372,492h1v3h-1zM373,492h1v3h-1zM374,492h1v3h-1zM375,493h1v3h-1zM376,493h1v3h-1zM377,493h1v3h-1zM378,492h1v3h-1zM379,492h1v3h-1zM380,493h1v3h-1zM381,493h1v3h-1zM382,493h1v3h-1zM383,493h1v3h-1zM384,492h1v3h-1zM385,492h1v3h-1zM386,492h1v3h-1zM387,492h1v3h-1zM388,492h1v3h-1zM389,492h1v3h-1zM390,492h1v3h-1zM391,492h1v3h-1zM392,492h1v3h-1zM393,492h1v3h-1zM394,493h1v3h-1zM395,492h1v3h-1zM396,493h1v3h-1zM397,492h1v3h-1zM398,492h1v3h-1zM399,492h1v3h-1zM400,492h1v3h-1zM401,492h1v3h-1zM402,492h1v3h-1zM403,493h1v3h-1zM404,492h1v3h-1zM405,492h1v3h-1zM406,492h1v3h-1zM407,492h1v3h-1zM408,491h1v3h-1zM409,491h1v3h-1zM410,492h1v3h-1zM411,492h1v3h-1zM412,492h1v3h-1zM413,493h1v3h-1zM414,492h1v3h-1zM415,492h1v3h-1zM416,492h1v3h-1zM417,491h1v3h-1zM418,491h1v3h-1zM419,492h1v3h-1zM420,492h1v3h-1zM421,492h1v3h-1zM422,492h1v3h-1zM423,493h1v3h-1zM424,492h1v3h-1zM425,492h1v3h-1zM426,492h1v3h-1zM427,491h1v3h-1zM428,491h1v3h-1zM429,491h1v3h-1zM430,491h1v3h-1zM431,491h1v3h-1zM432,491h1v3h-1zM433,491h1v3h-1zM434,491h1v3h-1zM435,491h1v3h-1zM436,491h1v3h-1zM437,490h1v3h-1zM438,490h1v3h-1zM439,490h1v3h-1zM440,490h1v3h-1zM441,490h1v3h-1zM442,491h1v3h-1zM443,491h1v3h-1zM444,492h1v3h-1zM445,492h1v3h-1zM446,492h1v3h-1zM447,492h1v3h-1zM448,492h1v3h-1zM449,492h1v3h-1zM450,492h1v3h-1zM451,492h1v3h-1zM452,492h1v3h-1zM453,492h1v3h-1zM454,492h1v3h-1zM455,491h1v3h-1zM456,491h1v3h-1zM457,491h1v3h-1zM458,491h1v3h-1zM459,490h1v3h-1zM460,490h1v3h-1zM461,489h1v3h-1zM462,489h1v3h-1zM463,489h1v3h-1zM464,489h1v3h-1zM465,488h1v3h-1zM466,488h1v3h-1zM467,489h1v3h-1zM468,489h1v3h-1zM469,489h1v3h-1zM470,490h1v3h-1zM471,490h1v3h-1zM472,490h1v3h-1zM473,491h1v3h-1zM474,491h1v3h-1zM475,491h1v3h-1zM476,491h1v3h-1zM477,491h1v3h-1zM478,490h1v3h-1zM479,490h1v3h-1zM480,490h1v3h-1zM481,490h1v3h-1zM482,490h1v3h-1zM483,490h1v3h-1zM484,490h1v3h-1zM485,490h1v3h-1zM486,490h1v3h-1zM487,490h1v3h-1zM488,490h1v3h-1zM489,490h1v3h-1zM490,490h1v3h-1zM491,490h1v3h-1zM492,489h1v3h-1zM493,489h1v3h-1zM494,490h1v3h-1zM495,489h1v3h-1zM496,489h1v3h-1zM497,489h1v3h-1zM498,489h1v3h-1zM499,490h1v3h-1zM500,490h1v3h-1zM501,489h1v3h-1zM502,489h1v3h-1zM503,489h1v3h-1zM504,489h1v3h-1zM505,489h1v3h-1zM506,489h1v3h-1zM507,489h1v3h-1zM508,490h1v3h-1zM509,490h1v3h-1zM510,490h1v3h-1zM511,490h1v3h-1zM512,490h1v3h-1zM513,491h1v3h-1zM514,490h1v3h-1zM515,490h1v3h-1zM516,491h1v3h-1zM517,491h1v3h-1zM518,491h1v3h-1zM519,491h1v3h-1zM520,491h1v3h-1zM521,491h1v3h-1zM522,491h1v3h-1zM523,491h1v3h-1zM524,491h1v3h-1zM525,491h1v3h-1zM526,491h1v3h-1zM527,491h1v3h-1zM528,491h1v3h-1zM529,490h1v3h-1zM530,490h1v3h-1zM531,489h1v3h-1zM532,488h1v3h-1zM533,488h1v3h-1zM534,488h1v3h-1zM535,488h1v3h-1zM536,489h1v3h-1zM537,489h1v3h-1zM538,490h1v3h-1zM539,490h1v3h-1zM540,490h1v3h-1zM541,490h1v3h-1zM542,490h1v3h-1zM543,490h1v3h-1zM544,490h1v3h-1zM545,491h1v3h-1zM546,490h1v3h-1zM547,491h1v3h-1zM548,491h1v3h-1zM549,491h1v3h-1zM550,491h1v3h-1zM551,491h1v3h-1zM552,491h1v3h-1zM553,491h1v3h-1zM554,491h1v3h-1zM555,491h1v3h-1zM556,491h1v3h-1zM557,492h1v3h-1zM558,492h1v3h-1zM559,493h1v3h-1zM560,493h1v3h-1zM561,493h1v3h-1zM562,492h1v3h-1zM563,493h1v3h-1zM564,492h1v3h-1zM565,492h1v3h-1zM566,492h1v3h-1zM567,492h1v3h-1zM568,492h1v3h-1zM569,492h1v3h-1zM570,492h1v3h-1zM571,492h1v3h-1zM572,492h1v3h-1zM573,492h1v3h-1zM574,492h1v3h-1zM575,492h1v3h-1zM576,492h1v3h-1zM577,492h1v3h-1zM578,492h1v3h-1zM579,491h1v3h-1zM580,491h1v3h-1zM581,491h1v3h-1zM582,491h1v3h-1zM583,491h1v3h-1zM584,492h1v3h-1zM585,492h1v3h-1zM586,491h1v3h-1zM587,491h1v3h-1zM588,491h1v3h-1zM589,491h1v3h-1zM590,491h1v3h-1zM591,491h1v3h-1zM592,490h1v3h-1zM593,490h1v3h-1zM594,490h1v3h-1zM595,490h1v3h-1zM596,490h1v3h-1zM597,490h1v3h-1zM598,490h1v3h-1zM599,490h1v3h-1zM600,490h1v3h-1zM601,490h1v3h-1zM602,490h1v3h-1zM603,490h1v3h-1zM604,490h1v3h-1zM605,490h1v3h-1zM606,490h1v3h-1zM607,490h1v3h-1zM608,490h1v3h-1zM609,490h1v3h-1zM610,490h1v3h-1zM611,491h1v3h-1zM612,491h1v3h-1zM613,491h1v3h-1zM614,492h1v3h-1zM615,491h1v3h-1zM616,492h1v3h-1zM617,492h1v3h-1zM618,491h1v3h-1zM619,491h1v3h-1zM620,491h1v3h-1zM621,491h1v3h-1zM622,491h1v3h-1zM623,490h1v3h-1zM624,490h1v3h-1zM625,490h1v3h-1zM626,489h1v3h-1zM627,489h1v3h-1zM628,489h1v3h-1zM629,489h1v3h-1zM630,489h1v3h-1zM631,489h1v3h-1zM632,488h1v3h-1zM633,489h1v3h-1zM634,489h1v3h-1zM635,490h1v3h-1zM636,491h1v3h-1zM637,491h1v3h-1zM666,493h1v3h-1zM667,493h1v3h-1zM668,493h1v3h-1zM669,493h1v3h-1zM670,493h1v3h-1zM671,493h1v3h-1zM672,492h1v3h-1zM673,491h1v3h-1zM674,489h1v3h-1zM675,487h1v3h-1zM676,486h1v3h-1z"/><path fill="#fff" shape-rendering="crispEdges" d="M115,141h1v2h-1zM115,144h2v2h-2zM116,140h1v2h-1zM117,139h1v2h-1zM122,140h1v2h-1zM122,138h2v2h-2zM123,139h1v2h-1zM123,144h1v1h-1zM125,139h1v2h-1zM126,139h1v2h-1zM126,144h1v1h-1zM127,139h1v2h-1zM128,139h1v2h-1zM129,139h1v2h-1zM129,138h2v2h-2zM130,138h1v2h-1zM131,138h1v2h-1zM132,137h1v2h-1zM133,137h1v2h-1zM134,138h1v2h-1zM135,139h1v2h-1zM135,144h1v1h-1zM136,139h1v2h-1zM136,143h2v2h-2zM137,140h1v2h-1zM138,141h1v2h-1zM139,141h1v2h-1zM139,140h2v2h-2zM140,139h1v2h-1zM140,137h2v2h-2zM141,137h1v2h-1zM141,139h2v2h-2zM143,136h1v2h-1zM143,138h2v2h-2zM144,135h1v2h-1zM145,135h1v2h-1zM145,138h2v2h-2zM146,135h1v2h-1zM147,134h1v2h-1zM148,135h1v2h-1zM148,133h2v2h-2zM149,136h1v2h-1zM150,137h1v2h-1zM151,136h1v2h-1zM152,136h1v2h-1zM154,137h1v2h-1zM155,137h1v2h-1zM155,139h2v2h-2zM156,137h1v2h-1zM156,143h1v1h-1zM157,139h1v2h-1zM157,137h2v2h-2zM158,139h1v2h-1zM159,137h1v2h-1zM159,134h1v1h-1zM160,137h1v2h-1zM161,137h1v2h-1zM161,139h2v2h-2zM162,137h1v2h-1zM163,135h1v2h-1zM163,140h1v1h-1zM165,137h1v2h-1zM166,137h1v2h-1zM166,140h2v2h-2zM168,135h1v2h-1zM168,139h2v2h-2zM169,133h1v2h-1zM170,135h1v2h-1zM170,134h2v2h-2zM171,135h1v2h-1zM172,135h1v2h-1zM173,137h1v2h-1zM174,135h1v2h-1zM174,134h2v2h-2zM175,135h1v2h-1zM176,135h1v2h-1zM178,137h1v2h-1zM178,143h1v1h-1zM179,137h1v2h-1zM179,135h2v2h-2zM180,137h1v2h-1zM181,135h1v2h-1zM181,139h2v2h-2zM182,135h1v2h-1zM183,135h1v2h-1zM183,139h2v2h-2zM184,137h1v2h-1zM184,133h1v1h-1zM185,137h1v2h-1zM185,140h2v2h-2zM186,137h1v2h-1zM186,136h2v2h-2zM187,137h1v2h-1zM188,137h1v2h-1zM189,137h1v2h-1zM189,134h1v1h-1zM190,137h1v2h-1zM190,140h2v2h-2zM191,139h1v2h-1zM191,141h2v2h-2zM192,139h1v2h-1zM193,139h1v2h-1zM194,139h1v2h-1zM195,139h1v2h-1zM195,137h2v2h-2zM196,139h1v2h-1zM197,137h1v2h-1zM198,137h1v2h-1zM199,137h1v2h-1zM199,139h2v2h-2zM200,137h1v2h-1zM200,143h1v1h-1zM201,138h1v2h-1zM202,139h1v2h-1zM203,138h1v2h-1zM204,139h1v2h-1zM205,139h1v2h-1zM206,138h1v2h-1zM206,136h2v2h-2zM207,137h1v2h-1zM208,137h1v2h-1zM208,135h2v2h-2zM210,136h1v2h-1zM211,137h1v2h-1zM211,139h2v2h-2zM212,138h1v2h-1zM212,134h1v1h-1zM213,138h1v2h-1zM214,139h1v2h-1zM214,137h2v2h-2zM215,137.0h1v2h-1zM216,137.0h1v2h-1zM217,137.0h1v2h-1zM218,137.0h1v2h-1zM219,137.0h1v2h-1zM220,137.0h1v2h-1zM221,137.0h1v2h-1zM222,137.0h1v2h-1zM223,137.0h1v2h-1zM224,137.0h1v2h-1zM225,137.0h1v2h-1zM226,137.0h1v2h-1zM227,137.0h1v2h-1zM228,137.0h1v2h-1zM229,137.0h1v2h-1zM230,137.0h1v2h-1zM231,137.0h1v2h-1zM232,137.0h1v2h-1zM233,137.0h1v2h-1zM234,137.0h1v2h-1zM235,137.0h1v2h-1zM236,137.0h1v2h-1zM237,137.0h1v2h-1zM238,137.0h1v2h-1zM239,137.0h1v2h-1zM240,137h1v2h-1zM240,135h2v2h-2zM241,137h1v2h-1zM242,135h1v2h-1zM242,134h2v2h-2zM243,133h1v2h-1zM243,131h2v2h-2zM244,134h1v2h-1zM244,136h2v2h-2zM245,133h1v2h-1zM246,131h1v2h-1zM247,130h1v2h-1zM248,128h1v2h-1zM249,129h1v2h-1zM250,130h1v2h-1zM250,129h2v2h-2zM251,130h1v2h-1zM252,130h1v2h-1zM253,129h1v2h-1zM254,128h1v2h-1zM255,129h1v2h-1zM256,128h1v2h-1zM258,128h1v2h-1zM258,127h2v2h-2zM259,128h1v2h-1zM259,125h1v1h-1zM260,127h1v2h-1zM261,132h1v2h-1zM261,135h2v2h-2zM262,137.0h1v2h-1zM263,137.0h1v2h-1zM264,137.0h1v2h-1zM265,137.0h1v2h-1zM266,137.0h1v2h-1zM267,137.0h1v2h-1zM268,137.0h1v2h-1zM269,137.0h1v2h-1zM270,137.0h1v2h-1zM271,137.0h1v2h-1zM272,137.0h1v2h-1zM273,137.0h1v2h-1zM274,137.0h1v2h-1zM275,137.0h1v2h-1zM276,137.0h1v2h-1zM277,137.0h1v2h-1zM278,137.0h1v2h-1zM279,137.0h1v2h-1zM280,137.0h1v2h-1zM281,137.0h1v2h-1zM282,137.0h1v2h-1zM283,137.0h1v2h-1zM284,137.0h1v2h-1zM285,137.0h1v2h-1zM286,137.0h1v2h-1zM287,137.0h1v2h-1zM288,138h1v2h-1zM289,135h1v2h-1zM289,134h2v2h-2zM290,134h1v2h-1zM290,133h2v2h-2zM293,134h1v2h-1zM294,133h1v2h-1zM295,133h1v2h-1zM296,132h1v2h-1zM297,132h1v2h-1zM298,133h1v2h-1zM298,135h2v2h-2zM299,132h1v2h-1zM300,131h1v2h-1zM301,131h1v2h-1zM301,135h2v2h-2zM302,130h1v2h-1zM302,128h2v2h-2zM303,131h1v2h-1zM304,130h1v2h-1zM305,129h1v2h-1zM305,131h2v2h-2zM306,129h1v2h-1zM306,125h1v1h-1zM307,129h1v2h-1zM308,128h1v2h-1zM308,132h2v2h-2zM309,129h1v2h-1zM309,128h2v2h-2zM310,129h1v2h-1zM311,129h1v2h-1zM312,129h1v2h-1zM312,127h2v2h-2zM313,130h1v2h-1zM314,129h1v2h-1zM315,129h1v2h-1zM316,128h1v2h-1zM316,132h2v2h-2zM317,129h1v2h-1zM318,129h1v2h-1zM319,128h1v2h-1zM320,129h1v2h-1zM320,131h2v2h-2zM321,129h1v2h-1zM321,126h1v1h-1zM322,130h1v2h-1zM322,132h2v2h-2zM323,129h1v2h-1zM323,128h2v2h-2zM324,128h1v2h-1zM325,128h1v2h-1zM326,128h1v2h-1zM326,127h2v2h-2zM327,128h1v2h-1zM328,127h1v2h-1zM329,127h1v2h-1zM329,126h2v2h-2zM330,128h1v2h-1zM331,127h1v2h-1zM333,127h1v2h-1zM334,128h1v2h-1zM335,129h1v2h-1zM336,129h1v2h-1zM337,130h1v2h-1zM338,131h1v2h-1zM338,129h2v2h-2zM339,132h1v2h-1zM339,131h2v2h-2zM340,132h1v2h-1zM341,133h1v2h-1zM341,132h2v2h-2zM342,133h1v2h-1zM343,133h1v2h-1zM344,133h1v2h-1zM344,131h2v2h-2zM345,131h1v2h-1zM347,130h1v2h-1zM347,129h2v2h-2zM348,131h1v2h-1zM349,130h1v2h-1zM349,132h2v2h-2zM350,129h1v2h-1zM351,129h1v2h-1zM351,131h2v2h-2zM352,130h1v2h-1zM352,132h2v2h-2zM353,129h1v2h-1zM354,130h1v2h-1zM355,130h1v2h-1zM355,134h2v2h-2zM356,130h1v2h-1zM356,136h1v1h-1zM357,131h1v2h-1zM357,133h2v2h-2zM358,131h1v2h-1zM359,132h1v2h-1zM360,132h1v2h-1zM361,131h1v2h-1zM362,130h1v2h-1zM362,128h2v2h-2zM363,130h1v2h-1zM363,134h2v2h-2zM364,130h1v2h-1zM365,131h1v2h-1zM366,131h1v2h-1zM368,132h1v2h-1zM369,133h1v2h-1zM370,135h1v2h-1zM370,138h2v2h-2zM371,133h1v2h-1zM371,136h2v2h-2zM372,132h1v2h-1zM372,135h2v2h-2zM373,131h1v2h-1zM374,130h1v2h-1zM375,131h1v2h-1zM376,130h1v2h-1zM376,133h2v2h-2zM377,131h1v2h-1zM377,137h1v1h-1zM378,131h1v2h-1zM378,130h2v2h-2zM380,132h1v2h-1zM381,133h1v2h-1zM382,134h1v2h-1zM382,140h1v1h-1zM383,133h1v2h-1zM384,133h1v2h-1zM386,131h1v2h-1zM386,130h2v2h-2zM387,132h1v2h-1zM389,133h1v2h-1zM389,135h2v2h-2zM390,133h1v2h-1zM391,133h1v2h-1zM391,132h2v2h-2zM392,134h1v2h-1zM393,133h1v2h-1zM394,134h1v2h-1zM396,134h1v2h-1zM397,134h1v2h-1zM397,138h2v2h-2zM398,133h1v2h-1zM398,132h2v2h-2zM399,132h1v2h-1zM399,131h2v2h-2zM400,132h1v2h-1zM401,131h1v2h-1zM402,131h1v2h-1zM403,132h1v2h-1zM404,132h1v2h-1zM405,132h1v2h-1zM405,131h2v2h-2zM407,131h1v2h-1zM408,131h1v2h-1zM410,131h1v2h-1zM410,130h2v2h-2zM411,130h1v2h-1zM416,131.5h1v2h-1zM417,131.5h1v2h-1zM418,131.5h1v2h-1zM419,131.5h1v2h-1zM420,131.5h1v2h-1zM421,131.5h1v2h-1zM422,131.5h1v2h-1zM423,131.5h1v2h-1zM424,131h1v2h-1zM426,131h1v2h-1zM426,127h1v1h-1zM427,131h1v2h-1zM428,130h1v2h-1zM429,130h1v2h-1zM429,129h2v2h-2zM430,131h1v2h-1zM430,129h2v2h-2zM431,132h1v2h-1zM432,132h1v2h-1zM432,136h2v2h-2zM434,132h1v2h-1zM434,131h2v2h-2zM435,133h1v2h-1zM436,132h1v2h-1zM436,137h1v1h-1zM437,131h1v2h-1zM438,132h1v2h-1zM439,131h1v2h-1zM440,131h1v2h-1zM440,129h2v2h-2zM441,130h1v2h-1zM441,126h1v1h-1zM442,130h1v2h-1zM443,130h1v2h-1zM444,129h1v2h-1zM445,130h1v2h-1zM445,135h1v1h-1zM446,129h1v2h-1zM447,130h1v2h-1zM447,129h2v2h-2zM448,131h1v2h-1zM449,131h1v2h-1zM450,132h1v2h-1zM451,132h1v2h-1zM452,133h1v2h-1zM453,134h1v2h-1zM453,133h2v2h-2zM454,135h1v2h-1zM455,134h1v2h-1zM455,136h2v2h-2zM456,134h1v2h-1zM456,133h2v2h-2zM457,135h1v2h-1zM457,134h2v2h-2zM458,134h1v2h-1zM460,132h1v2h-1zM461,133h1v2h-1zM462,133h1v2h-1zM463,134h1v2h-1zM464,135h1v2h-1zM465,134h1v2h-1zM465,139h1v1h-1zM466,133h1v2h-1zM466,132h2v2h-2zM467,134h1v2h-1zM468,134h1v2h-1zM468,131h1v1h-1zM469,133h1v2h-1zM470,132h1v2h-1zM471,132h1v2h-1zM472,130.0h1v2h-1zM473,131.5h1v2h-1zM474,131.5h1v2h-1zM475,131.5h1v2h-1zM476,131.5h1v2h-1zM477,131.5h1v2h-1zM478,131.5h1v2h-1zM479,131.5h1v2h-1zM480,131.5h1v2h-1zM481,131.5h1v2h-1zM482,131.5h1v2h-1zM483,131.5h1v2h-1zM484,131.5h1v2h-1zM485,131.5h1v2h-1zM486,131.5h1v2h-1zM487,131.5h1v2h-1zM488,131.5h1v2h-1zM489,131.5h1v2h-1zM490,131.5h1v2h-1zM491,131.5h1v2h-1zM492,131.5h1v2h-1zM493,131.5h1v2h-1zM494,131.5h1v2h-1zM495,131.5h1v2h-1zM496,131.5h1v2h-1zM497,131.5h1v2h-1zM498,131.5h1v2h-1zM499,131.5h1v2h-1zM500,131.5h1v2h-1zM501,131.5h1v2h-1zM502,131.5h1v2h-1zM503,131.5h1v2h-1zM504,131.5h1v2h-1zM505,131.5h1v2h-1zM506,131.5h1v2h-1zM507,131.5h1v2h-1zM508,133h1v2h-1zM508,132h2v2h-2zM510,132h1v2h-1zM511,132h1v2h-1zM512,131h1v2h-1zM513,130h1v2h-1zM514,130h1v2h-1zM514,133h2v2h-2zM515,130h1v2h-1zM515,129h2v2h-2zM516,131h1v2h-1zM517,132h1v2h-1zM517,130h2v2h-2zM518,132h1v2h-1zM518,131h2v2h-2zM519,132h1v2h-1zM520,132h1v2h-1zM521,131h1v2h-1zM522,130h1v2h-1zM522,134h2v2h-2zM523,130h1v2h-1zM524,131h1v2h-1zM525,131h1v2h-1zM525,127h1v1h-1zM526,130h1v2h-1zM526,129h2v2h-2zM527,130h1v2h-1zM527,128h2v2h-2zM528,131h1v2h-1zM529,132h1v2h-1zM529,130h2v2h-2zM530,133h1v2h-1zM531,133h1v2h-1zM532,133h1v2h-1zM534,131h1v2h-1zM535,130h1v2h-1zM537,132h1v2h-1zM538,131h1v2h-1zM539,130h1v2h-1zM540,130h1v2h-1zM540,128h2v2h-2zM541,129h1v2h-1zM541,128h2v2h-2zM542,130h1v2h-1zM543,130h1v2h-1zM544,130h1v2h-1zM545,131h1v2h-1zM545,128h1v1h-1zM546,132h1v2h-1zM546,129h1v1h-1zM547,132h1v2h-1zM548,132h1v2h-1zM548,134h2v2h-2zM549,132h1v2h-1zM550,131h1v2h-1zM551,132h1v2h-1zM551,131h2v2h-2zM552,131h1v2h-1zM552,135h2v2h-2zM553,130h1v2h-1zM553,129h2v2h-2zM554,129h1v2h-1zM554,127h2v2h-2zM555,129h1v2h-1zM556,129h1v2h-1zM557,129h1v2h-1zM558,128h1v2h-1zM558,127h2v2h-2zM559,127h1v2h-1zM560,128h1v2h-1zM561,127h1v2h-1zM562,126h1v2h-1zM565,125h1v2h-1zM566,124h1v2h-1zM567,123h1v2h-1zM567,121h2v2h-2zM568,125h1v2h-1zM569,125h1v2h-1zM569,121h1v1h-1zM570,125h1v2h-1zM570,124h2v2h-2zM571,125h1v2h-1zM571,130h1v1h-1zM573,127h1v2h-1zM573,129h2v2h-2zM574,128h1v2h-1zM575,127h1v2h-1zM576,127h1v2h-1zM577,128h1v2h-1zM579,126h1v2h-1zM579,130h2v2h-2zM580,126h1v2h-1zM581,127h1v2h-1zM581,126h2v2h-2zM582,128h1v2h-1zM583,128h1v2h-1zM584,128h1v2h-1zM584,127h2v2h-2zM585,129h1v2h-1zM585,127h2v2h-2zM586,130h1v2h-1zM587,129h1v2h-1zM588,128h1v2h-1zM588,127h2v2h-2zM589,128h1v2h-1zM590,127h1v2h-1zM591,126h1v2h-1zM592,126h1v2h-1zM592,132h1v1h-1zM593,125h1v2h-1zM594,126h1v2h-1zM594,132h1v1h-1zM595,125h1v2h-1zM596,126h1v2h-1zM597,127h1v2h-1zM598,126h1v2h-1zM599,127h1v2h-1zM600,128h1v2h-1zM601,127h1v2h-1zM602,128h1v2h-1zM603,129h1v2h-1zM604,130h1v2h-1zM605,129h1v2h-1zM606,128h1v2h-1zM607,129h1v2h-1zM608,130h1v2h-1zM608,133h2v2h-2zM609,129h1v2h-1zM609,134h1v1h-1zM610,129h1v2h-1zM611,129h1v2h-1zM612,128h1v2h-1zM612,127h2v2h-2zM613,127h1v2h-1zM615,126h1v2h-1zM616,127h1v2h-1zM617,128h1v2h-1zM618,127h1v2h-1zM619,126h1v2h-1zM620,127h1v2h-1zM620,129h2v2h-2zM621,128h1v2h-1zM621,127h2v2h-2zM622,128h1v2h-1zM623,128h1v2h-1zM623,132h2v2h-2zM624,129h1v2h-1zM625,130h1v2h-1zM625,136h1v1h-1zM626,131h1v2h-1zM626,133h2v2h-2zM627,131h1v2h-1zM627,133h2v2h-2zM629,131h1v2h-1zM630,132h1v2h-1zM630,135h2v2h-2zM631,132h1v2h-1zM631,131h2v2h-2zM632,133h1v2h-1zM633,132h1v2h-1zM633,131h2v2h-2zM634,132h1v2h-1zM635,131h1v2h-1z"/><polyline fill="none" stroke="#000" stroke-width="3" stroke-linejoin="round" points="146.0,206.8 151.0,201.2 203.8,201.2 210.0,194.3 246.5,194.3 250.5,187.4 450.0,187.4 458.8,180.5 636.0,180.5"/><polyline fill="none" stroke="#000" stroke-width="1.3" stroke-dasharray="2.4 0.6" points="122.0,279.6 132.5,242.7 140.0,218.1 146.0,206.8 151.0,201.2"/><polyline fill="none" stroke="#000" stroke-width="1.6" stroke-dasharray="1.6 1.4" points="98.3,374.2 110.6,311.0 118.0,291.2"/><path fill="none" stroke="#000" stroke-width="1.1" d="M89.5,419.5h3.6M91.3,417.7v3.6M90.8,416.5h3.6M92.6,414.7v3.6M93.60000000000001,389h3.6M95.4,387.2v3.6M96.5,373h3.6M98.3,371.2v3.6M634.7,181.5h3.6M636.5,179.7v3.6M664.5999999999999,434.0h2.4M665.8,432.8v2.4M665.8249999999999,439.0h2.4M667.025,437.8v2.4M667.05,444.0h2.4M668.25,442.8v2.4M668.2749999999999,449.0h2.4M669.4749999999999,447.8v2.4M669.4999999999999,454.0h2.4M670.6999999999999,452.8v2.4M670.7249999999999,459.0h2.4M671.925,457.8v2.4M671.9499999999999,464.0h2.4M673.15,462.8v2.4M673.175,469.0h2.4M674.375,467.8v2.4M674.3999999999999,474.0h2.4M675.5999999999999,472.8v2.4"/><rect x="669" y="452" width="3" height="3" fill="#000"/>
<g shape-rendering="crispEdges" fill="#000"><rect x="63" y="34" width="642" height="2"/><rect x="63" y="495" width="642" height="2"/><rect x="63" y="34" width="2" height="463"/><rect x="703" y="34" width="2" height="463"/><rect x="65" y="473" width="5" height="1"/><rect x="65" y="450" width="12" height="1"/><rect x="65" y="427" width="5" height="1"/><rect x="65" y="404" width="12" height="1"/><rect x="65" y="381" width="5" height="1"/><rect x="65" y="358" width="12" height="1"/><rect x="65" y="334" width="5" height="1"/><rect x="65" y="311" width="12" height="1"/><rect x="65" y="288" width="5" height="1"/><rect x="65" y="265" width="12" height="1"/><rect x="65" y="242" width="5" height="1"/><rect x="65" y="219" width="12" height="1"/><rect x="65" y="196" width="5" height="1"/><rect x="65" y="173" width="12" height="1"/><rect x="65" y="150" width="5" height="1"/><rect x="65" y="127" width="12" height="1"/><rect x="65" y="104" width="5" height="1"/><rect x="65" y="81" width="12" height="1"/><rect x="65" y="58" width="5" height="1"/><rect x="128" y="36" width="1" height="12"/><rect x="128" y="484" width="1" height="11"/><rect x="192" y="36" width="1" height="12"/><rect x="192" y="484" width="1" height="11"/><rect x="256" y="36" width="1" height="12"/><rect x="256" y="484" width="1" height="11"/><rect x="320" y="36" width="1" height="12"/><rect x="320" y="484" width="1" height="11"/><rect x="384" y="36" width="1" height="12"/><rect x="384" y="484" width="1" height="11"/><rect x="448" y="36" width="1" height="12"/><rect x="448" y="484" width="1" height="11"/><rect x="512" y="36" width="1" height="12"/><rect x="512" y="484" width="1" height="11"/><rect x="576" y="36" width="1" height="12"/><rect x="576" y="484" width="1" height="11"/><rect x="640" y="36" width="1" height="12"/><rect x="640" y="484" width="1" height="11"/><rect x="698" y="461" width="5" height="1"/><rect x="691" y="426" width="12" height="1"/><rect x="698" y="390" width="5" height="1"/><rect x="691" y="355" width="12" height="1"/><rect x="698" y="320" width="5" height="1"/><rect x="691" y="285" width="12" height="1"/><rect x="698" y="250" width="5" height="1"/><rect x="691" y="215" width="12" height="1"/><rect x="698" y="180" width="5" height="1"/><rect x="691" y="144" width="12" height="1"/><rect x="698" y="109" width="5" height="1"/><rect x="691" y="74" width="12" height="1"/><rect x="698" y="39" width="5" height="1"/><rect x="742" y="35" width="13" height="19" fill="#400000"/><rect x="742" y="54" width="13" height="19" fill="#800000"/><rect x="742" y="73" width="13" height="18" fill="#c00000"/><rect x="742" y="91" width="13" height="22" fill="#ff0000"/><rect x="742" y="113" width="13" height="18" fill="#ff4000"/><rect x="742" y="131" width="13" height="18" fill="#ff8000"/><rect x="742" y="149" width="13" height="19" fill="#ffc000"/><rect x="742" y="168" width="13" height="21" fill="#ffff00"/><rect x="742" y="189" width="13" height="18" fill="#c0ff00"/><rect x="742" y="207" width="13" height="19" fill="#80ff00"/><rect x="742" y="226" width="13" height="19" fill="#40ff00"/><rect x="742" y="245" width="13" height="21" fill="#00ff00"/><rect x="742" y="266" width="13" height="19" fill="#00ff40"/><rect x="742" y="285" width="13" height="18" fill="#00ff80"/><rect x="742" y="303" width="13" height="19" fill="#00ffc0"/><rect x="742" y="322" width="13" height="21" fill="#00ffff"/><rect x="742" y="343" width="13" height="19" fill="#00c0ff"/><rect x="742" y="362" width="13" height="18" fill="#0080ff"/><rect x="742" y="380" width="13" height="19" fill="#0040ff"/><rect x="742" y="399" width="13" height="21" fill="#0000ff"/><rect x="742" y="420" width="13" height="19" fill="#0000c0"/><rect x="742" y="439" width="13" height="18" fill="#000080"/><rect x="742" y="457" width="13" height="19" fill="#000040"/><rect x="742" y="476" width="13" height="20" fill="#000000"/></g>
<g font-family="'Liberation Sans', sans-serif" font-size="16" fill="#000"><text x="52.4" y="500.8" text-anchor="end">0</text><text x="52.4" y="454.7" text-anchor="end">2</text><text x="52.4" y="408.6" text-anchor="end">4</text><text x="52.4" y="362.4" text-anchor="end">6</text><text x="52.4" y="316.3" text-anchor="end">8</text><text x="56.4" y="270.2" text-anchor="end">10</text><text x="56.4" y="224.1" text-anchor="end">12</text><text x="56.4" y="178.0" text-anchor="end">14</text><text x="56.4" y="131.8" text-anchor="end">16</text><text x="56.4" y="85.7" text-anchor="end">18</text><text x="56.4" y="39.6" text-anchor="end">20</text><text x="713.3" y="500.9">0</text><text x="709.3" y="430.6">10</text><text x="709.3" y="360.3">20</text><text x="709.3" y="290.0">30</text><text x="709.3" y="219.8">40</text><text x="709.3" y="149.5">50</text><text x="709.3" y="79.2">60</text><text x="758.2" y="501.3">170</text><text x="758.2" y="470.6">180</text><text x="758.2" y="439.9">190</text><text x="758.2" y="409.2">200</text><text x="758.2" y="378.5">210</text><text x="758.2" y="347.8">220</text><text x="758.2" y="317.1">230</text><text x="758.2" y="286.4">240</text><text x="758.2" y="255.7">250</text><text x="758.2" y="225.0">260</text><text x="758.2" y="194.3">270</text><text x="758.2" y="163.6">280</text><text x="758.2" y="132.9">290</text><text x="758.2" y="102.2">300</text><text x="758.2" y="71.5">310</text><text x="758.2" y="40.8">320</text><text x="64" y="520.7" text-anchor="middle">59</text><text x="192" y="520.7" text-anchor="middle">63</text><text x="320" y="520.7" text-anchor="middle">67</text><text x="448" y="520.7" text-anchor="middle">71</text><text x="576" y="520.7" text-anchor="middle">75</text><text x="704" y="520.7" text-anchor="middle">79</text><text x="64" y="29" textLength="323.5" lengthAdjust="spacing" font-weight="bold" xml:space="preserve">JPL Microwave Temperature Profiler (MTP)</text><text x="461.5" y="29" textLength="65.5" lengthAdjust="spacing" font-weight="bold" xml:space="preserve">PREDICT</text><text x="536.5" y="29" textLength="167" lengthAdjust="spacing" font-weight="bold" xml:space="preserve">Flight Date: 20100910</text><text x="35" y="539.4" font-weight="bold" xml:space="preserve">km</text><text x="309.7" y="539.4" textLength="148.3" lengthAdjust="spacing" font-weight="bold" xml:space="preserve">Universal Time [ks]</text><text x="714" y="539.4" font-weight="bold" xml:space="preserve">kft</text><text x="760" y="539.4" font-weight="bold" xml:space="preserve">T[K]</text><text x="158" y="573" textLength="484" lengthAdjust="spacing" xml:space="preserve">Principal Investigator: MJ Mahoney (Michael.J.Mahoney@jpl.nasa.gov)</text><text x="9.1" y="593.7" textLength="189.9" lengthAdjust="spacing" xml:space="preserve">Flight: 2010 09 10 00:00:00</text><text x="212.8" y="593.7" textLength="219.4" lengthAdjust="spacing" xml:space="preserve">Retrieved: 2011 05 24 12:47:11</text><text x="446" y="593.7" textLength="201.7" lengthAdjust="spacing" xml:space="preserve">Editted: 2011 05 24 12:50:48</text><text x="658.5" y="593.7" textLength="132.5" lengthAdjust="spacing" xml:space="preserve">Plotted: 2011 05 31</text><text x="795.5" y="593.7" xml:space="preserve">13:12:21</text><text transform="translate(23.1,280.5) rotate(-90)" font-size="19" text-anchor="middle" textLength="145" lengthAdjust="spacing">Pressure Altitude</text></g>
</svg></body></html>
